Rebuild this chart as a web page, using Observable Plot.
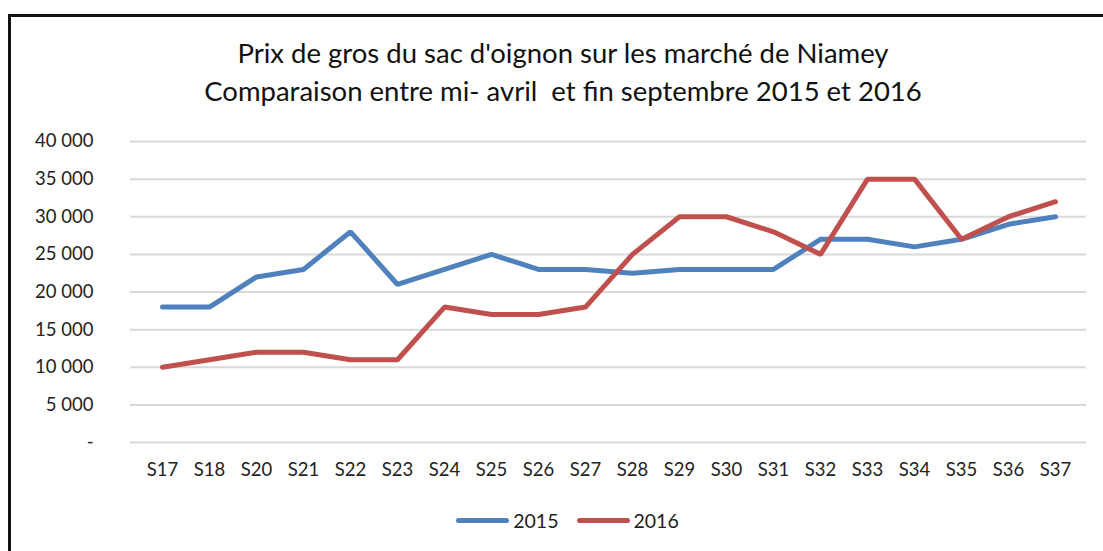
<!DOCTYPE html>
<html>
<head>
<meta charset="utf-8">
<script src="https://cdn.jsdelivr.net/npm/d3@7"></script>
<script src="https://cdn.jsdelivr.net/npm/@observablehq/plot@0.6"></script>
<style>
  html, body { margin: 0; padding: 0; background: #fff; overflow: hidden; }
  #wrap { position: relative; width: 1103px; height: 551px; overflow: hidden; font-family: Lato, "Open Sans", sans-serif; color: #222; }
  #frame { position: absolute; left: 8px; top: 14px; width: 1200px; height: 700px; border: 3px solid #111; box-sizing: border-box; }
  #title { position: absolute; left: 0; width: 1126px; top: 34px; text-align: center; font-size: 27.5px; line-height: 38px; color: #111; white-space: nowrap; }
  #chart { position: absolute; left: 0; top: 120px; }
  #legend { position: absolute; top: 509px; left: 0; width: 1135px; display: flex; justify-content: center; align-items: center; font-size: 19.5px; color: #222; }
  .sw { display: inline-block; width: 53px; height: 5px; border-radius: 3px; margin-right: 4px; }
  .item { display: flex; align-items: center; margin: 0 9px; }
</style>
</head>
<body>
<div id="wrap">
  <div id="frame"></div>
  <div id="title">Prix de gros du sac d'oignon sur les marché de Niamey<br>Comparaison entre mi- avril&nbsp; et fin septembre 2015 et 2016</div>
  <div id="chart"></div>
  <div id="legend"></div>
</div>
<script>
const weeks = ["S17","S18","S20","S21","S22","S23","S24","S25","S26","S27","S28","S29","S30","S31","S32","S33","S34","S35","S36","S37"];
const prix2015 = [18000,18000,22000,23000,28000,21000,23000,25000,23000,23000,22500,23000,23000,23000,27000,27000,26000,27000,29000,30000];
const prix2016 = [10000,11000,12000,12000,11000,11000,18000,17000,17000,18000,25000,30000,30000,28000,25000,35000,35000,27000,30000,32000];
const yTicks = [0,5000,10000,15000,20000,25000,30000,35000,40000];
const seriesNames = ["2015","2016"];
const seriesColors = ["#4F81BD","#C0504D"];

const data = [];
weeks.forEach((w, i) => {
  data.push({week: w, prix: prix2015[i], serie: seriesNames[0]});
  data.push({week: w, prix: prix2016[i], serie: seriesNames[1]});
});

const fmt = v => v === 0 ? "-" : d3.format(",")(v).replace(/,/g, " ");

const plot = Plot.plot({
  width: 1103,
  height: 380,
  marginLeft: 130,
  marginRight: 17,
  marginTop: 21,
  marginBottom: 58,
  style: {fontFamily: "Lato, 'Open Sans', sans-serif", fontSize: "18.5px", color: "#222", background: "transparent"},
  x: {type: "point", domain: weeks, padding: 0.5, label: null},
  y: {domain: [0, 40000], label: null},
  color: {domain: seriesNames, range: seriesColors},
  marks: [
    Plot.ruleY(yTicks, {stroke: "#d9d9d9", strokeWidth: 2}),
    Plot.axisY({ticks: yTicks, tickFormat: fmt, tickSize: 0, tickPadding: 37, label: null, fontSize: 18.5}),
    Plot.axisX({tickSize: 0, tickPadding: 20, label: null, fontSize: 18.5}),
    Plot.line(data, {x: "week", y: "prix", z: "serie", stroke: "serie", strokeWidth: 5, strokeLinejoin: "miter", strokeLinecap: "round"})
  ]
});
document.getElementById("chart").appendChild(plot);

const legend = document.getElementById("legend");
seriesNames.forEach((n, i) => {
  const it = document.createElement("div");
  it.className = "item";
  it.innerHTML = `<span class="sw" style="background:${seriesColors[i]}"></span><span>${n}</span>`;
  legend.appendChild(it);
});
</script>
</body>
</html>
